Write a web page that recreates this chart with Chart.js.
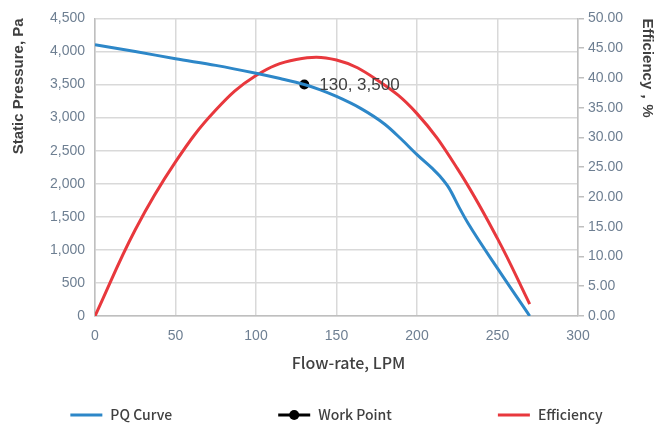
<!DOCTYPE html>
<html>
<head>
<meta charset="utf-8">
<script src="https://cdn.jsdelivr.net/npm/chart.js@4"></script>
<style>
  html, body { margin: 0; padding: 0; background: #fff; }
  #wrap { width: 656px; height: 424px; }
</style>
</head>
<body>
<div id="wrap"><canvas id="pqChart"></canvas></div>
<script>
// PQ curve (flow LPM -> static pressure Pa)
const pqFlow = [0, 25, 50, 75, 100, 115, 130, 140, 150, 165, 180, 190, 200, 210, 214, 220, 226, 232, 250, 270];
const pqPressure = [4100, 4000, 3890, 3790, 3670, 3590, 3500, 3420, 3320, 3140, 2900, 2680, 2440, 2220, 2120, 1930, 1650, 1390, 720, 0];

// Efficiency curve (flow LPM -> %)
const effFlow = [0, 25, 50, 75, 100, 125, 150, 175, 200, 225, 250, 270];
const effValues = [0, 14.5, 25.9, 34.6, 40.4, 43.1, 43.0, 39.7, 34.0, 24.8, 13.0, 2];

// operating point
const workFlow = [130];
const workPressure = [3500];

const leftTicks = [0, 500, 1000, 1500, 2000, 2500, 3000, 3500, 4000, 4500];
const rightTicks = [0, 5, 10, 15, 20, 25, 30, 35, 40, 45, 50];

const tickColor = '#6e7f92';
const titleColor = '#404040';
const gridColor = '#d9d9d9';
const tickFont = { family: '"Liberation Sans", Arial, sans-serif', size: 14 };

function pts(xs, ys) {
  return xs.map((x, i) => ({ x: x, y: ys[i] }));
}

// text next to the work point
const pointLabel = {
  id: 'pointLabel',
  afterDatasetsDraw(chart) {
    const meta = chart.getDatasetMeta(1);
    const ctx = chart.ctx;
    meta.data.forEach((el, i) => {
      ctx.save();
      ctx.font = '17px "Liberation Sans", Arial, sans-serif';
      ctx.fillStyle = titleColor;
      ctx.textBaseline = 'middle';
      ctx.fillText(workFlow[i] + ', ' + workPressure[i].toLocaleString('en-US'), el.x + 15, el.y + 1);
      ctx.restore();
    });
  }
};

// Excel-like legend: wide gaps between entries, line swatch (+ dot for the point)
const bottomLegend = {
  id: 'bottomLegend',
  afterDraw(chart) {
    const ctx = chart.ctx;
    const items = chart.data.datasets;
    const sw = 32, gap = 8, spacing = 106;
    ctx.save();
    ctx.font = '500 14px "Noto Sans CJK SC", "Noto Sans", sans-serif';
    const widths = items.map(d => sw + gap + ctx.measureText(d.label).width);
    const total = widths.reduce((a, b) => a + b, 0) + spacing * (items.length - 1);
    let x = (chart.chartArea.left + chart.chartArea.right) / 2 - total / 2;
    const y = chart.height - 9;
    items.forEach((d, i) => {
      ctx.strokeStyle = d.borderColor;
      ctx.lineWidth = 3;
      ctx.beginPath();
      ctx.moveTo(x, y);
      ctx.lineTo(x + sw, y);
      ctx.stroke();
      if (d.showLine === false) {
        ctx.fillStyle = d.backgroundColor;
        ctx.beginPath();
        ctx.arc(x + sw / 2, y, 5, 0, Math.PI * 2);
        ctx.fill();
      }
      ctx.fillStyle = titleColor;
      ctx.textBaseline = 'middle';
      ctx.fillText(d.label, x + sw + gap, y);
      x += widths[i] + spacing;
    });
    ctx.restore();
  }
};

new Chart(document.getElementById('pqChart'), {
  type: 'line',
  data: {
    datasets: [{
      label: 'PQ Curve',
      data: pts(pqFlow, pqPressure),
      borderColor: '#2d87c8',
      borderWidth: 3,
      pointRadius: 0,
      cubicInterpolationMode: 'monotone',
      yAxisID: 'y'
    }, {
      label: 'Work Point',
      data: pts(workFlow, workPressure),
      borderColor: '#000',
      backgroundColor: '#000',
      pointRadius: 5,
      pointBorderWidth: 0,
      showLine: false,
      yAxisID: 'y'
    }, {
      label: 'Efficiency',
      data: pts(effFlow, effValues),
      borderColor: '#e8383d',
      borderWidth: 3,
      pointRadius: 0,
      tension: 0.4,
      yAxisID: 'y1'
    }]
  },
  options: {
    responsive: true,
    maintainAspectRatio: false,
    animation: false,
    layout: { padding: { top: 17, left: 0, right: 0, bottom: 51 } },
    plugins: {
      legend: { display: false },
      tooltip: { enabled: false }
    },
    scales: {
      x: {
        type: 'linear',
        min: 0,
        max: 300,
        afterFit: s => { s.height = 57; },
        ticks: { stepSize: 50, color: tickColor, padding: 12, font: tickFont },
        grid: { color: gridColor, lineWidth: 1.5, drawTicks: false },
        border: { color: '#bfbfbf', width: 1.5 },
        title: {
          display: true,
          text: '\u2003\u2002Flow-rate, LPM',
          color: titleColor,
          padding: 0,
          font: { family: '"Noto Sans CJK SC", "Noto Sans", sans-serif', size: 16, weight: '500' }
        }
      },
      y: {
        position: 'left',
        min: 0,
        max: 4500,
        afterFit: s => { s.width = 95; },
        afterBuildTicks: s => { s.ticks = leftTicks.map(v => ({ value: v })); },
        ticks: {
          color: tickColor,
          padding: 10,
          autoSkip: false,
          font: tickFont,
          callback: v => v.toLocaleString('en-US')
        },
        grid: { color: gridColor, lineWidth: 1.5, drawTicks: false },
        border: { color: '#bfbfbf', width: 1.5 },
        title: {
          display: true,
          text: 'Static Pressure, Pa',
          align: 'end',
          color: titleColor,
          padding: { top: 10, bottom: 0 },
          font: { family: '"Liberation Sans", Arial, sans-serif', size: 15, weight: 'bold' }
        }
      },
      y1: {
        position: 'right',
        min: 0,
        max: 50,
        afterFit: s => { s.width = 78; },
        afterBuildTicks: s => { s.ticks = rightTicks.map(v => ({ value: v })); },
        ticks: {
          color: tickColor,
          padding: 4,
          autoSkip: false,
          font: tickFont,
          callback: v => v.toFixed(2)
        },
        grid: { drawOnChartArea: false, color: '#bfbfbf', lineWidth: 1.5, tickLength: 6 },
        border: { color: '#bfbfbf', width: 1.5 },
        title: {
          display: true,
          text: 'Efficiency，%',
          align: 'end',
          color: titleColor,
          padding: 0,
          font: { family: '"Liberation Sans", Arial, sans-serif', size: 15, weight: 'bold' }
        }
      }
    }
  },
  plugins: [pointLabel, bottomLegend]
});
</script>
</body>
</html>
